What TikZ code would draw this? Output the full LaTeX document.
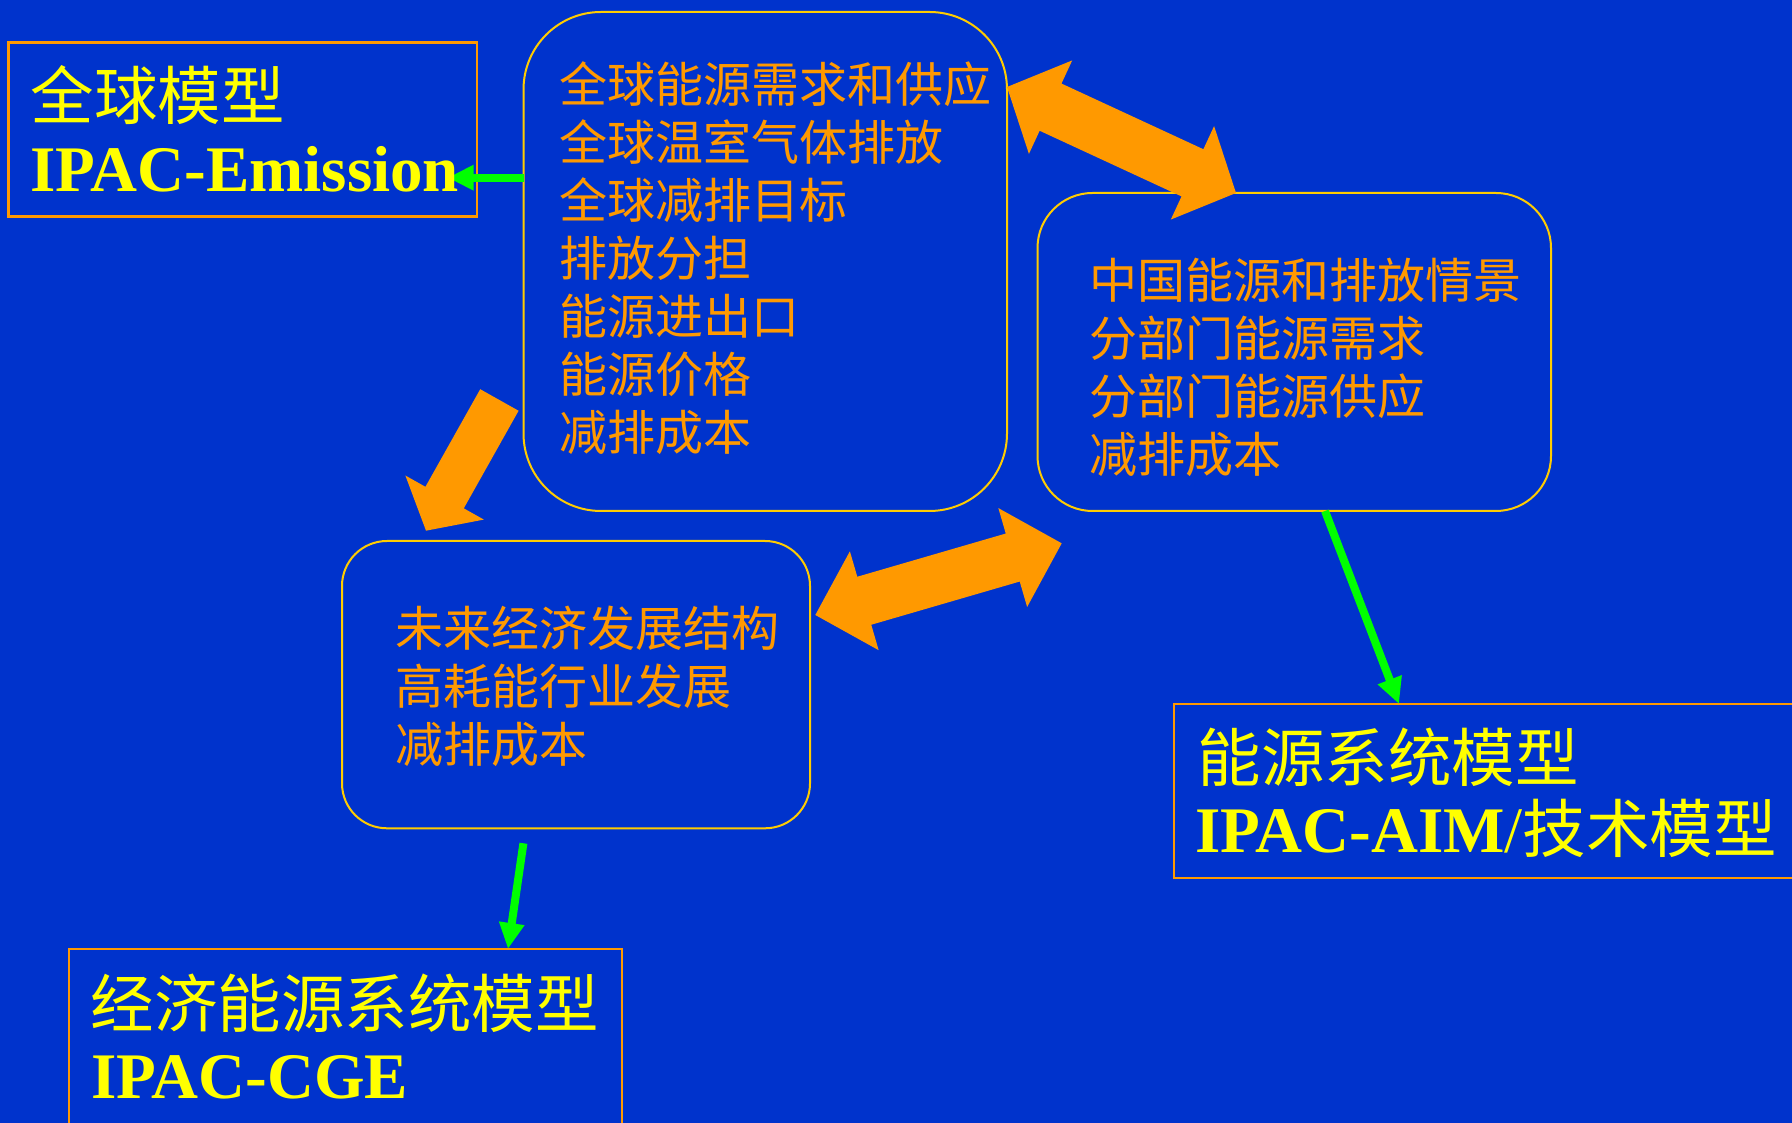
\documentclass[tikz,border=0pt]{standalone}
\usepackage{fontspec}
\setmainfont{Liberation Serif}
\newfontfamily\cjk{Noto Sans CJK SC}
\usetikzlibrary{calc,arrows.meta}
\definecolor{bg}{HTML}{0033CC}
\definecolor{org}{HTML}{FF9900}
\definecolor{gold}{HTML}{FFCC00}
\definecolor{yel}{HTML}{FFFF00}
\definecolor{grn}{HTML}{00FF00}
\newcommand\pxu{0.4pt}
% double block arrow: #1 tip A, #2 tip B, #3 half shaft, #4 half head, #5 head length
\newcommand\blockdbl[5]{%
  \coordinate (bm1) at ($(#1)!#5!(#2)$);
  \coordinate (bm2) at ($(#2)!#5!(#1)$);
  \fill[blockfill] (#1) -- ($(bm1)!#4!90:(#2)$) -- ($(bm1)!#3!90:(#2)$)
    -- ($(bm2)!#3!90:(#2)$) -- ($(bm2)!#4!90:(#2)$) -- (#2)
    -- ($(bm2)!#4!-90:(#2)$) -- ($(bm2)!#3!-90:(#2)$)
    -- ($(bm1)!#3!-90:(#2)$) -- ($(bm1)!#4!-90:(#2)$) -- cycle;}
% single block arrow: #1 tail, #2 tip, #3 half shaft, #4 half head, #5 head length
\newcommand\blocksgl[5]{%
  \coordinate (bm) at ($(#2)!#5!(#1)$);
  \fill[blockfill] (#2) -- ($(bm)!#4!90:(#1)$) -- ($(bm)!#3!90:(#1)$)
    -- ($(#1)!#3!-90:(bm)$) -- ($(#1)!#3!90:(bm)$)
    -- ($(bm)!#3!-90:(#1)$) -- ($(bm)!#4!-90:(#1)$) -- cycle;}
\begin{document}
\begin{tikzpicture}[x=0.4pt,y=-0.4pt,
  rectbox/.style={draw=org,line width=1pt,inner sep=0pt,outer sep=0pt},
  roundbox/.style={draw=gold,line width=0.8pt,inner sep=0pt,outer sep=0pt},
  listtext/.style={text=org,font=\cjk\fontsize{19.2pt}{23.2pt}\selectfont,align=left,anchor=west,inner sep=0pt},
  titlecjk/.style={text=yel,font=\cjk\fontsize{25.4pt}{30pt}\selectfont,anchor=west,inner sep=0pt},
  titlelat/.style={text=yel,font=\bfseries\fontsize{26pt}{30pt}\selectfont,anchor=base west,inner sep=0pt},
  garrow/.style={draw=grn,line width=3.2pt,-{Triangle[length=10.4pt,width=9.6pt]}},
  blockfill/.style={fill=org}]
\useasboundingbox (0,0) rectangle (1792,1123);
\fill[bg] (0,0) rectangle (1792,1123);
\begin{scope}
\clip (0,0) rectangle (1792,1123);
% boxes
\node[rectbox,minimum width=468.4*\pxu,minimum height=174.3*\pxu] (A) at (242.8,129.55) {};
\node[roundbox,rounded corners=31pt,minimum width=483.5*\pxu,minimum height=499*\pxu] (B1) at (765.25,261.5) {};
\node[roundbox,rounded corners=22pt,minimum width=513.5*\pxu,minimum height=318*\pxu] (R) at (1294.25,352) {};
\node[roundbox,rounded corners=18pt,minimum width=468*\pxu,minimum height=287.3*\pxu] (L) at (576,684.65) {};
\node[rectbox,minimum width=626*\pxu,minimum height=174*\pxu] (E) at (1487,791) {};
\node[rectbox,minimum width=553*\pxu,minimum height=186*\pxu] (C) at (345.5,1042) {};
% block arrows
\coordinate (d1a) at (B1.east |- 0,87);
\coordinate (d1b) at (1236,0 |- R.north);
\blockdbl{d1a}{d1b}{10.4pt}{20.6pt}{19.2pt}
\coordinate (s1t) at (499.4,400);
\coordinate (s1p) at (426,530.7);
\blocksgl{s1t}{s1p}{8.8pt}{18pt}{15.2pt}
\coordinate (d2a) at (815.3,615);
\coordinate (d2b) at (1061.7,543.3);
\blockdbl{d2a}{d2b}{10pt}{20.6pt}{20.4pt}
% green arrows
\coordinate (gA) at (447.7,177.7);
\draw[garrow] (B1.west |- gA) -- (gA);
\draw[garrow] (1325,0 |- R.south) -- (1399,0 |- E.north);
\coordinate (gL) at (523.4,843.3);
\draw[garrow] (gL) -- (508,0 |- C.north);
% texts
\node[titlecjk] (tA1) at (30,95) {全球模型};
\node[titlelat] (tA2) at (30,191.7) {IPAC-Emission};
\node[listtext] (tB1) at (559,258) {全球能源需求和供应\\全球温室气体排放\\全球减排目标\\排放分担\\能源进出口\\能源价格\\减排成本};
\node[listtext] (tR) at (1089,367.5) {中国能源和排放情景\\分部门能源需求\\分部门能源供应\\减排成本};
\node[listtext] (tL) at (395,686) {未来经济发展结构\\高耗能行业发展\\减排成本};
\node[titlecjk] (tE1) at (1197,757) {能源系统模型};
\node[titlelat] (tE2) at (1195,852.7) {IPAC-AIM{\mdseries/\cjk\fontsize{25.4pt}{30pt}\selectfont 技术模型}};
\node[titlecjk] (tC1) at (90,1003) {经济能源系统模型};
\node[titlelat] (tC2) at (91,1098.3) {IPAC-CGE};
\end{scope}
\end{tikzpicture}
\end{document}
